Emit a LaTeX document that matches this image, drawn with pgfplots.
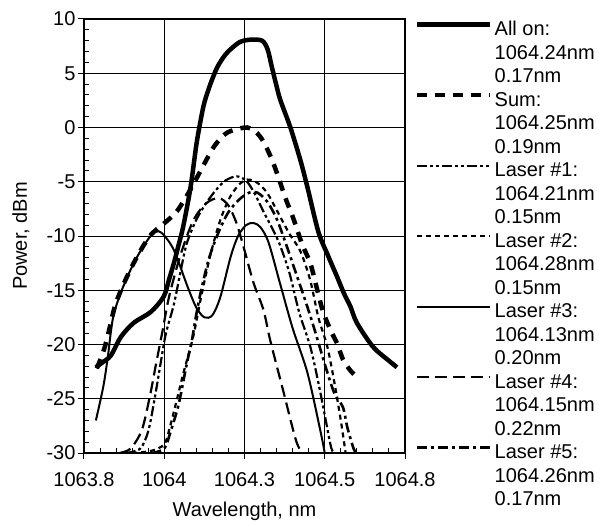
\documentclass[border=0pt]{standalone}
\usepackage{pgfplots}
\pgfplotsset{compat=1.18}
\usepackage{fontspec}
\setmainfont{Liberation Sans}
\begin{document}
\begin{tikzpicture}[font=\fontsize{20}{23.5}\selectfont]
\useasboundingbox (-84pt,-72pt) rectangle (515pt,453pt);
\begin{axis}[
  at={(0pt,0pt)}, anchor=south west,
  scale only axis, width=321pt, height=434pt,
  xmin=1063.75, xmax=1064.75, ymin=-30, ymax=10,
  xtick={1063.75,1064,1064.25,1064.5,1064.75},
  xticklabels={1063.8,1064,1064.3,1064.5,1064.8},
  ytick={-30,-25,...,10},
  minor x tick num=4, minor y tick num=4,
  xtick pos=bottom, ytick pos=left,
  tick align=inside,
  major tick length=0pt, minor tick length=5pt,
  grid=major,
  major grid style={black, line width=1pt},
  axis line style={black, line width=1.4pt},
  tick style={black, line width=1pt},
  extra x ticks={1063.75,1064,1064.25,1064.5,1064.75},
  extra x tick labels={},
  extra x tick style={tick align=outside, major tick length=6pt, grid=none},
  extra y ticks={-30,-25,-20,-15,-10,-5,0,5,10},
  extra y tick labels={},
  extra y tick style={tick align=outside, major tick length=6pt, grid=none},
  /pgf/number format/assume math mode=true,
  yticklabel style={xshift=-5pt},
  xticklabel style={yshift=-16pt},
  xlabel={Wavelength, nm},
  ylabel={Power, dBm},
  xlabel style={at={(axis description cs:0.5,-0.1452)}, anchor=base},
  ylabel style={at={(axis description cs:-0.1776,0.5)}, anchor=base},
  legend style={at={(axis description cs:1,1)}, anchor=north west, xshift=10pt,
    draw=none, fill=none, inner sep=0pt, row sep=0pt, column sep=2pt,
    cells={anchor=base west}, nodes={inner sep=0pt, text depth=}},
  legend image code/.code={\draw[#1] (0pt,11pt) -- (73pt,11pt);},
  every axis plot/.append style={smooth, tension=0.5, black},
]
% All on
\addplot[line width=4.5pt] coordinates {
(1063.787,-22.1) (1063.81,-21.6) (1063.834,-21.0) (1063.865,-19.3) (1063.905,-18.0)
(1063.958,-17.0) (1063.998,-15.6) (1064.015,-14.0) (1064.03,-12.5) (1064.045,-10.8)
(1064.06,-9.0) (1064.082,-5.5) (1064.10,-1.6) (1064.113,0.6) (1064.125,2.3)
(1064.145,4.1) (1064.166,5.6) (1064.19,6.7) (1064.21,7.3) (1064.237,7.9)
(1064.27,8.1) (1064.305,8.0) (1064.322,7.2) (1064.335,5.6) (1064.35,3.8)
(1064.362,2.5) (1064.393,0.0) (1064.424,-3.0) (1064.446,-5.5) (1064.48,-9.6)
(1064.51,-11.8) (1064.539,-13.8) (1064.56,-15.3) (1064.58,-16.5) (1064.60,-18.0)
(1064.65,-20.2) (1064.70,-21.5) (1064.725,-22.1)};
\addlegendentry{\begin{tabular}[t]{@{}l@{}}All on:\\1064.24nm\\0.17nm\end{tabular}}
% Sum
\addplot[line width=4.5pt, dash pattern=on 10pt off 8pt] coordinates {
(1063.79,-22.2) (1063.812,-20.5) (1063.828,-18.7) (1063.845,-16.6) (1063.865,-15.0)
(1063.896,-13.0) (1063.927,-11.3) (1063.955,-10.0) (1063.98,-9.3) (1064.005,-8.7)
(1064.04,-7.7) (1064.08,-5.8) (1064.113,-4.0) (1064.154,-1.8) (1064.19,-0.6)
(1064.22,-0.2) (1064.259,0.0) (1064.285,-0.4) (1064.309,-1.3) (1064.34,-3.3)
(1064.38,-6.7) (1064.40,-8.2) (1064.43,-10.8) (1064.455,-12.5) (1064.477,-15.0)
(1064.495,-17.0) (1064.52,-18.8) (1064.54,-20.0) (1064.557,-21.4) (1064.58,-22.4)
(1064.60,-23.0)};
\addlegendentry{\begin{tabular}[t]{@{}l@{}}Sum:\\1064.25nm\\0.19nm\end{tabular}}
% Laser 1
\addplot[line width=2.2pt, dash pattern=on 10pt off 3pt on 3pt off 3pt on 3pt off 3pt] coordinates {
(1063.88,-30) (1063.925,-29.6) (1063.95,-28.0) (1063.97,-25.0) (1063.99,-21.5)
(1064.005,-19.0) (1064.03,-16.3) (1064.05,-13.4) (1064.07,-10.7) (1064.10,-8.5)
(1064.13,-7.0) (1064.16,-5.8) (1064.19,-4.9) (1064.225,-4.5) (1064.255,-4.9)
(1064.28,-6.0) (1064.31,-7.8) (1064.34,-9.5) (1064.36,-10.8) (1064.39,-13.4)
(1064.42,-17.0) (1064.455,-20.2) (1064.48,-23.5) (1064.50,-26.5) (1064.52,-29.5)
(1064.53,-30)};
\addlegendentry{\begin{tabular}[t]{@{}l@{}}Laser \#1:\\1064.21nm\\0.15nm\end{tabular}}
% Laser 2
\addplot[line width=2.2pt, dash pattern=on 5pt off 4pt] coordinates {
(1063.90,-30) (1063.96,-29.8) (1064.0,-29.2) (1064.015,-27.9) (1064.035,-25.6)
(1064.06,-22.6) (1064.09,-19.3) (1064.115,-15.6) (1064.145,-11.6) (1064.175,-8.5)
(1064.205,-6.4) (1064.235,-5.2) (1064.26,-4.8) (1064.29,-5.1) (1064.32,-6.0)
(1064.35,-7.6) (1064.39,-9.8) (1064.424,-11.4) (1064.455,-14.1) (1064.48,-17.5)
(1064.508,-20.2) (1064.53,-23.5) (1064.55,-27.0) (1064.565,-30)};
\addlegendentry{\begin{tabular}[t]{@{}l@{}}Laser \#2:\\1064.28nm\\0.15nm\end{tabular}}
% Laser 3
\addplot[line width=2pt] coordinates {
(1063.787,-27.0) (1063.81,-23.9) (1063.824,-21.2) (1063.84,-17.6) (1063.865,-15.2)
(1063.905,-12.5) (1063.945,-10.5) (1063.972,-9.6) (1063.995,-9.8) (1064.03,-11.3)
(1064.073,-14.7) (1064.10,-16.6) (1064.125,-17.5) (1064.15,-17.3) (1064.175,-15.6)
(1064.207,-11.9) (1064.23,-10.0) (1064.255,-9.0) (1064.278,-8.8) (1064.30,-9.2)
(1064.325,-10.6) (1064.36,-14.3) (1064.40,-18.5) (1064.446,-22.6) (1064.486,-27.9)
(1064.50,-30)};
\addlegendentry{\begin{tabular}[t]{@{}l@{}}Laser \#3:\\1064.13nm\\0.20nm\end{tabular}}
% Laser 4
\addplot[line width=2.2pt, dash pattern=on 12pt off 6pt] coordinates {
(1063.86,-30) (1063.895,-29.6) (1063.93,-27.9) (1063.955,-24.8) (1063.975,-21.7)
(1063.995,-18.7) (1064.015,-15.6) (1064.05,-11.8) (1064.09,-8.6) (1064.13,-7.0)
(1064.17,-6.5) (1064.20,-7.2) (1064.225,-8.8) (1064.247,-11.0) (1064.278,-14.3)
(1064.309,-16.8) (1064.33,-19.6) (1064.37,-24.2) (1064.41,-28.8) (1064.43,-30)};
\addlegendentry{\begin{tabular}[t]{@{}l@{}}Laser \#4:\\1064.15nm\\0.22nm\end{tabular}}
% Laser 5
\addplot[line width=2.6pt, dash pattern=on 10pt off 4pt on 3pt off 4pt] coordinates {
(1063.96,-30) (1064.0,-29.6) (1064.02,-28.0) (1064.045,-25.5) (1064.07,-21.8)
(1064.085,-19.8) (1064.10,-17.2) (1064.115,-15.0) (1064.14,-12.0) (1064.17,-9.6)
(1064.20,-7.8) (1064.235,-6.6) (1064.265,-6.0) (1064.29,-6.0) (1064.32,-6.8)
(1064.35,-8.4) (1064.38,-10.8) (1064.41,-13.4) (1064.44,-16.0) (1064.47,-18.8)
(1064.50,-21.8) (1064.53,-24.5) (1064.557,-25.8) (1064.57,-27.6) (1064.59,-29.6)
(1064.60,-30)};
\addlegendentry{\begin{tabular}[t]{@{}l@{}}Laser \#5:\\1064.26nm\\0.17nm\end{tabular}}
\end{axis}
\end{tikzpicture}
\end{document}
